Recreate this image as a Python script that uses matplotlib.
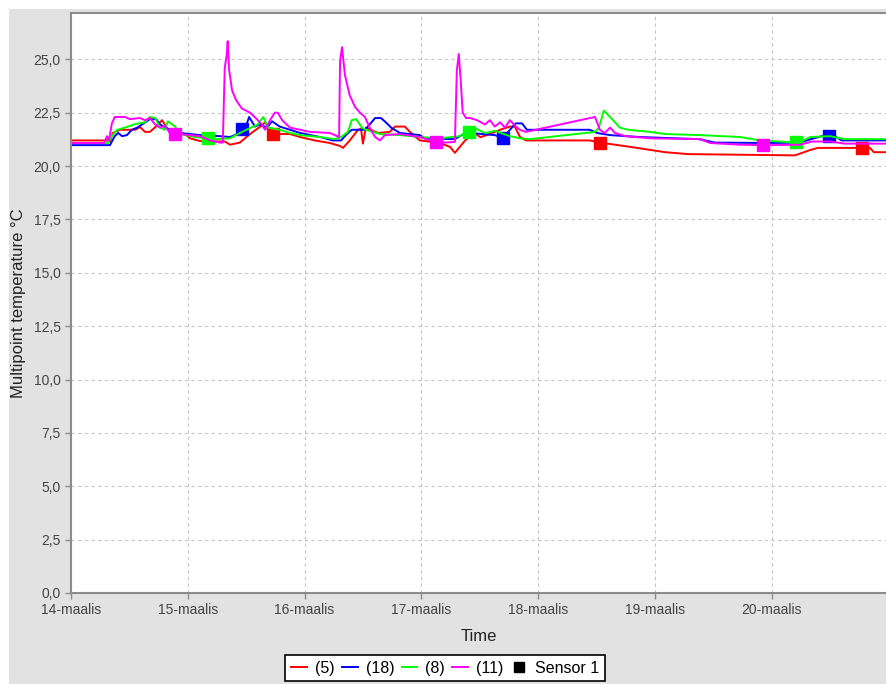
import numpy as np
import matplotlib
matplotlib.use("Agg")
import matplotlib.pyplot as plt
from matplotlib.lines import Line2D
from matplotlib.patches import Rectangle

plt.rcParams['font.family'] = ['Liberation Sans', 'DejaVu Sans']

# hours since 14-maalis 00:00, temperature in °C
red_t = [0, 7.6, 8.0, 8.6, 10.1, 13.2, 14.2, 15.2, 16.2, 17.7, 18.7, 20.3, 23.4, 24.5, 26.5, 31.6,
         32.7, 34.7, 36.8, 39.2, 39.9, 40.9, 41.5, 45.0, 47.1, 50.1, 53.2, 55.3, 55.9, 57.3, 59.0,
         59.6, 60.0, 60.6, 63.1, 65.5, 66.6, 68.6, 70.1, 71.7, 75.8, 77.9, 78.9, 81.0, 83.0, 84.1,
         86.1, 88.2, 90.2, 91.2, 92.3, 93.5, 106.6, 108.7, 114.9, 122.1, 126.8, 148.8, 151.9,
         153.5, 162.5, 164.2, 165.0, 167.5]
red_v = [21.2, 21.2, 21.15, 21.55, 21.7, 21.7, 21.83, 21.6, 21.6, 21.9, 22.15, 21.6, 21.5, 21.3,
         21.17, 21.15, 21.0, 21.1, 21.5, 21.9, 22.05, 21.7, 21.5, 21.5, 21.36, 21.2, 21.08, 20.94,
         20.85, 21.2, 21.7, 21.75, 21.05, 21.8, 21.55, 21.6, 21.85, 21.85, 21.5, 21.2, 21.08, 20.9,
         20.62, 21.2, 21.55, 21.35, 21.5, 21.7, 21.85, 21.85, 21.36, 21.2, 21.2, 21.1, 20.9, 20.65,
         20.56, 20.5, 20.75, 20.85, 20.85, 20.85, 20.65, 20.65]

blue_t = [0, 8.0, 9.0, 9.7, 10.5, 11.5, 12.5, 13.6, 14.6, 15.6, 16.2, 17.5, 18.3, 20.3, 22.4,
          26.5, 30.6, 32.7, 34.7, 35.1, 35.8, 36.6, 37.8, 38.8, 40.3, 41.3, 42.9, 45.0, 47.1, 51.2,
          53.8, 55.5, 56.7, 57.7, 60.4, 61.4, 62.5, 63.7, 64.7, 65.8, 67.6, 71.7, 72.7, 78.9, 80.3,
          82.0, 87.1, 88.8, 90.2, 91.4, 92.7, 93.7, 106.6, 108.1, 110.8, 116.9, 129.2, 132.3,
          143.6, 149.8, 151.9, 154.3, 155.8, 157.0, 158.4, 167.5]
blue_v = [20.98, 20.98, 21.4, 21.55, 21.4, 21.45, 21.7, 21.8, 21.95, 22.1, 22.2, 22.2, 21.95,
          21.7, 21.55, 21.45, 21.4, 21.36, 21.55, 21.75, 21.75, 22.3, 21.85, 21.95, 21.8, 22.1,
          21.85, 21.7, 21.55, 21.36, 21.2, 21.2, 21.5, 21.7, 21.7, 21.95, 22.25, 22.25, 22.05, 21.8,
          21.55, 21.45, 21.3, 21.26, 21.45, 21.55, 21.45, 21.3, 21.7, 22.0, 22.0, 21.7, 21.7, 21.55,
          21.45, 21.36, 21.26, 21.1, 21.08, 21.1, 21.25, 21.4, 21.4, 21.4, 21.2, 21.2]

green_t = [0, 7.6, 8.4, 9.5, 11.1, 13.2, 15.2, 16.2, 17.3, 18.3, 19.3, 19.9, 21.4, 22.4, 25.5,
           28.2, 29.6, 32.7, 34.7, 36.8, 38.4, 39.5, 40.5, 42.9, 45.0, 47.1, 51.2, 54.2, 55.5,
           56.9, 57.7, 58.6, 59.8, 60.6, 63.5, 67.6, 71.7, 75.8, 79.9, 81.2, 81.8, 83.2, 85.1, 87.1,
           90.2, 92.3, 94.3, 107.7, 108.5, 109.5, 111.2, 112.8, 114.5, 119.0, 122.1, 129.2, 137.5,
           141.6, 147.7, 149.0, 149.8, 151.9, 156.0, 159.0, 167.5]
green_v = [21.08, 21.08, 21.4, 21.7, 21.8, 21.97, 22.05, 22.3, 22.25, 21.8, 21.7, 22.1, 21.85,
           21.5, 21.36, 21.3, 21.26, 21.3, 21.55, 21.78, 21.95, 22.3, 21.8, 21.7, 21.55, 21.45,
           21.36, 21.26, 21.36, 21.6, 22.15, 22.2, 21.8, 21.7, 21.5, 21.45, 21.36, 21.3, 21.4, 21.6,
           21.6, 21.75, 21.55, 21.65, 21.4, 21.3, 21.26, 21.6, 21.8, 22.6, 22.2, 21.8, 21.7, 21.6,
           21.5, 21.45, 21.36, 21.2, 21.12, 21.12, 21.12, 21.36, 21.4, 21.26, 21.26]

mag_t = [0, 6.8, 7.4, 7.8, 8.4, 9.0, 11.1, 12.1, 14.2, 15.2, 16.2, 17.3, 18.3, 19.3, 20.3, 21.4,
         22.4, 26.5, 28.6, 30.6, 31.2, 31.6, 32.0, 32.2, 32.5, 33.1, 33.9, 35.1, 36.8, 38.4, 39.2,
         39.9, 40.9, 41.9, 42.5, 43.4, 45.0, 47.1, 49.1, 53.2, 55.1, 55.3, 55.7, 56.3, 57.3, 58.4,
         59.4, 60.4, 61.4, 62.5, 63.5, 64.5, 67.6, 71.7, 73.8, 75.0, 76.9, 78.9, 79.3, 79.7, 80.1,
         80.5, 81.2, 82.0, 83.4, 85.1, 86.1, 87.1, 88.2, 89.2, 90.2, 91.2, 92.3, 93.5, 107.7,
         108.7, 109.7, 110.8, 111.8, 113.9, 119.0, 129.2, 131.4, 137.5, 142.2, 143.6, 149.8,
         152.3, 156.0, 159.0, 167.5]
mag_v = [21.08, 21.08, 21.4, 21.2, 22.0, 22.3, 22.3, 22.2, 22.25, 22.15, 22.25, 21.95, 21.8,
         21.9, 21.55, 21.5, 21.5, 21.4, 21.2, 21.1, 21.1, 24.6, 25.2, 25.85, 24.5, 23.55, 23.1,
         22.7, 22.5, 22.15, 21.95, 21.7, 22.15, 22.5, 22.5, 22.15, 21.8, 21.7, 21.6, 21.55, 21.36,
         24.9, 25.57, 24.26, 23.3, 22.76, 22.5, 22.3, 21.8, 21.36, 21.2, 21.45, 21.5, 21.36, 21.2,
         21.15, 21.1, 21.13, 24.5, 25.25, 24.0, 22.5, 22.25, 22.25, 22.15, 21.95, 22.15, 21.85,
         22.05, 21.8, 22.15, 21.9, 21.69, 21.6, 22.3, 21.7, 21.55, 21.8, 21.55, 21.4, 21.3, 21.26,
         21.08, 21.0, 20.98, 20.98, 21.0, 21.15, 21.15, 21.05, 21.05]

# where the series shapes are shown
red_marks = [41.5, 108.7, 162.5]
blue_marks = [35.1, 88.8, 155.8]
green_marks = [28.2, 81.8, 149.0]
mag_marks = [21.4, 75.0, 142.2]

series = [("(5)", red_t, red_v, red_marks, "#ff0000"),
          ("(18)", blue_t, blue_v, blue_marks, "#0000ff"),
          ("(8)", green_t, green_v, green_marks, "#00ff00"),
          ("(11)", mag_t, mag_v, mag_marks, "#ff00ff")]

tick_labels = ["14-maalis", "15-maalis", "16-maalis", "17-maalis",
               "18-maalis", "19-maalis", "20-maalis"]

W, H = 886, 684
fig = plt.figure(figsize=(W / 100, H / 100), dpi=100)
fig.patch.set_facecolor("white")
fig.patches.append(Rectangle((9 / W, 0), 1, (H - 9) / H, transform=fig.transFigure,
                             facecolor="#e2e2e2", edgecolor="none", zorder=-10))

ax = fig.add_axes([71 / W, (H - 593) / H, (W - 71) / W, (593 - 13) / H])
ax.set_facecolor("white")

for name, t, v, marks, c in series:
    t = np.array(t)
    idx = [int(np.argmin(np.abs(t - m))) for m in marks]
    ax.plot(t, v, color=c, lw=1.4, marker="s", ms=8, markevery=idx, label=name)

ax.set_xlim(0, 167.5)
ax.set_ylim(0, 27.17)
ax.set_xticks(np.arange(len(tick_labels)) * 24)
ax.set_xticklabels(tick_labels)
yt = np.arange(0, 27.5, 2.5)
ax.set_yticks(yt)
ax.set_yticklabels([f"{y:.1f}".replace(".", ",") for y in yt])

ax.grid(True, color="#c4c4c4", linestyle=(0, (3, 3)), lw=0.8)
ax.set_axisbelow(True)
for s in ["left", "bottom", "top"]:
    ax.spines[s].set_color("#8c8c8c")
    ax.spines[s].set_linewidth(1.5)
ax.spines["right"].set_visible(False)
ax.tick_params(colors="#8c8c8c", labelcolor="#444444", labelsize=10, length=4, width=1)

ax.set_xlabel("Time", fontsize=12, color="#222222", labelpad=8)
ax.set_ylabel("Multipoint temperature °C", fontsize=12, color="#222222", labelpad=5)

handles = [Line2D([], [], color=c, lw=1.4) for _, _, _, _, c in series]
handles.append(Line2D([], [], color="black", marker="s", ls="none", ms=7))
labels = [s[0] for s in series] + ["Sensor 1"]
leg = fig.legend(handles, labels, loc="upper center", bbox_to_anchor=(445 / W, 1 - 655 / H),
                 ncol=5, fontsize=11.5, frameon=True, fancybox=False, framealpha=1,
                 edgecolor="black", handlelength=1.0, handletextpad=0.5, columnspacing=0.45,
                 borderpad=0.35, borderaxespad=0)
leg.get_frame().set_linewidth(1.2)

fig.savefig("out.png", dpi=100)
